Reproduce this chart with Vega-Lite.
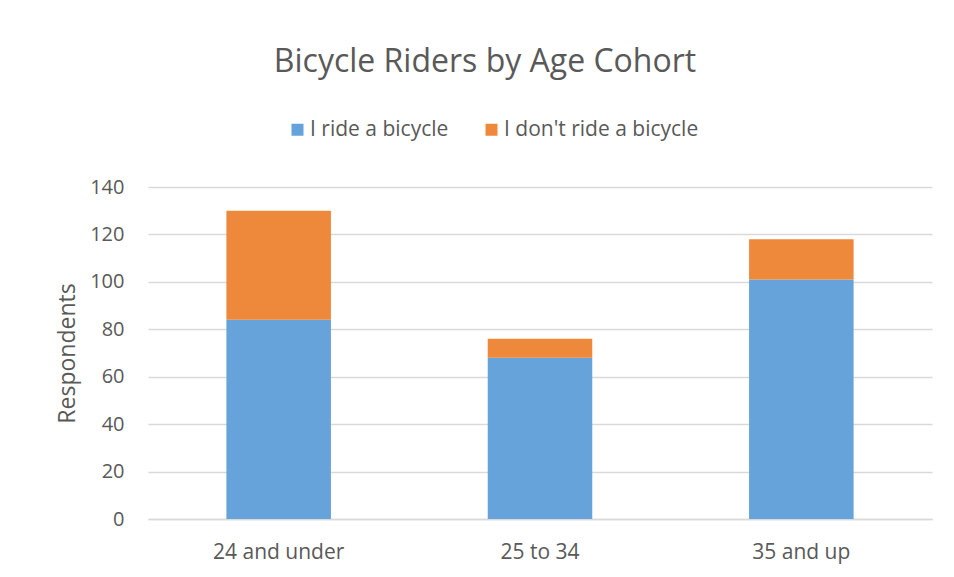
{
  "$schema": "https://vega.github.io/schema/vega-lite/v6.json",
  "width": 784,
  "height": 332,
  "autosize": {"type": "none"},
  "padding": {"left": 148, "top": 187, "right": 22, "bottom": 58},
  "background": "white",
  "title": {
    "text": "Bicycle Riders by Age Cohort",
    "font": "Open Sans",
    "fontSize": 32,
    "fontWeight": "normal",
    "color": "#595959",
    "anchor": "middle",
    "dx": -55,
    "offset": 40
  },
  "data": {
    "values": [
      {"cohort": "24 and under", "status": "I ride a bicycle", "respondents": 84},
      {"cohort": "24 and under", "status": "I don't ride a bicycle", "respondents": 46},
      {"cohort": "25 to 34", "status": "I ride a bicycle", "respondents": 68},
      {"cohort": "25 to 34", "status": "I don't ride a bicycle", "respondents": 8},
      {"cohort": "35 and up", "status": "I ride a bicycle", "respondents": 101},
      {"cohort": "35 and up", "status": "I don't ride a bicycle", "respondents": 17}
    ]
  },
  "mark": {"type": "bar"},
  "encoding": {
    "x": {
      "field": "cohort",
      "type": "nominal",
      "sort": ["24 and under", "25 to 34", "35 and up"],
      "scale": {"paddingInner": 0.6, "paddingOuter": 0.3},
      "axis": {
        "title": null,
        "labelAngle": 0,
        "labelFont": "Open Sans",
        "labelFontSize": 21,
        "labelColor": "#595959",
        "labelPadding": 22,
        "ticks": false,
        "domainColor": "#d9d9d9",
        "domainWidth": 1.5
      }
    },
    "y": {
      "field": "respondents",
      "type": "quantitative",
      "aggregate": "sum",
      "stack": "zero",
      "scale": {"domain": [0, 140]},
      "axis": {
        "title": "Respondents",
        "titleFont": "Open Sans",
        "titleFontSize": 23,
        "titleFontWeight": "normal",
        "titleColor": "#595959",
        "titlePadding": 10,
        "values": [0, 20, 40, 60, 80, 100, 120, 140],
        "labelFont": "Open Sans",
        "labelFontSize": 20,
        "labelColor": "#595959",
        "labelPadding": 24,
        "ticks": false,
        "domain": false,
        "gridColor": "#d9d9d9",
        "gridWidth": 1.3
      }
    },
    "color": {
      "field": "status",
      "type": "nominal",
      "sort": ["I ride a bicycle", "I don't ride a bicycle"],
      "scale": {
        "domain": ["I ride a bicycle", "I don't ride a bicycle"],
        "range": ["#65a3da", "#ee893c"]
      },
      "legend": {
        "title": null,
        "orient": "none",
        "direction": "horizontal",
        "legendX": 139,
        "legendY": -68,
        "symbolType": "square",
        "symbolSize": 144,
        "symbolStrokeWidth": 0,
        "labelFont": "Open Sans",
        "labelFontSize": 21,
        "labelColor": "#595959",
        "labelOffset": 2,
        "labelLimit": 0,
        "columnPadding": 32
      }
    },
    "order": {"field": "status", "sort": "descending"}
  },
  "config": {
    "view": {"stroke": null}
  }
}
